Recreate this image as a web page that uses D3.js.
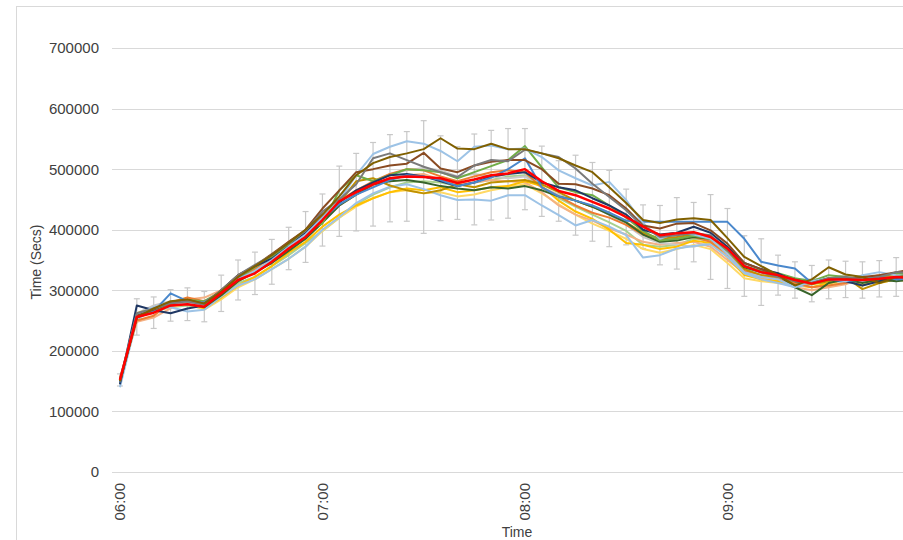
<!DOCTYPE html>
<html>
<head>
<meta charset="utf-8">
<script src="https://cdn.jsdelivr.net/npm/d3@7"></script>
<style>
  body { margin: 0; background: #fff; }
  text { font-family: "Liberation Sans", Arial, sans-serif; fill: #404040; }
</style>
</head>
<body>
<svg width="903" height="540"></svg>
<script>
// time slots, every 5 minutes
const times = ["06:00","06:05","06:10","06:15","06:20","06:25","06:30","06:35","06:40","06:45","06:50","06:55",
  "07:00","07:05","07:10","07:15","07:20","07:25","07:30","07:35","07:40","07:45","07:50","07:55",
  "08:00","08:05","08:10","08:15","08:20","08:25","08:30","08:35","08:40","08:45","08:50","08:55",
  "09:00","09:05","09:10","09:15","09:20","09:25","09:30","09:35","09:40","09:45","09:50","09:55"];
const tickLabels = ["06:00","07:00","08:00","09:00"];
const yTicks = [0,100000,200000,300000,400000,500000,600000,700000];

// individual days (secs)
const olive = [150000,255000,270000,282000,285000,278000,298000,322000,340000,358000,378000,400000,425000,455000,490000,510000,520000,526000,533000,551000,534000,533000,542000,533000,533000,526000,518000,506000,495000,470000,444000,416000,411000,417000,419000,416000,386000,355000,340000,325000,308000,318000,338000,326000,322000,312000,322000,325000];
const lightBlueHigh = [152000,260000,272000,280000,278000,275000,296000,318000,332000,350000,372000,392000,420000,448000,490000,525000,537000,546000,542000,530000,513000,537000,539000,533000,534000,520000,498000,485000,473000,479000,449000,411000,385000,395000,392000,385000,360000,330000,322000,318000,305000,315000,320000,315000,325000,330000,325000,322000];
const lightBlueLow = [140000,252000,268000,272000,265000,268000,290000,308000,318000,335000,352000,372000,400000,421000,444000,460000,471000,475000,467000,457000,449000,450000,448000,457000,457000,440000,424000,407000,416000,405000,391000,354000,358000,369000,373000,376000,355000,328000,318000,312000,305000,310000,318000,312000,315000,322000,318000,315000];
const darkGray = [152000,262000,270000,278000,282000,276000,300000,325000,342000,358000,378000,398000,430000,450000,475000,518000,526000,515000,504000,495000,487000,506000,515000,513000,532000,526000,520000,501000,476000,454000,432000,405000,388000,391000,394000,391000,366000,340000,330000,322000,315000,312000,320000,322000,318000,322000,330000,328000];
const brown = [150000,258000,268000,280000,284000,278000,300000,325000,340000,360000,380000,400000,435000,465000,495000,500000,506000,509000,527000,501000,495000,506000,512000,515000,515000,500000,476000,475000,468000,457000,435000,407000,402000,410000,411000,399000,377000,345000,335000,325000,318000,312000,320000,318000,322000,325000,330000,335000];
const green = [150000,255000,265000,276000,284000,282000,298000,320000,338000,355000,375000,398000,410000,465000,490000,480000,490000,500000,498000,495000,485000,495000,505000,515000,538000,503000,470000,462000,457000,440000,420000,398000,382000,385000,390000,385000,365000,340000,332000,328000,320000,315000,325000,322000,318000,322000,328000,325000];
const blue = [148000,258000,265000,295000,282000,280000,298000,320000,330000,348000,370000,390000,418000,442000,458000,470000,482000,490000,488000,482000,472000,478000,486000,500000,518000,470000,455000,448000,440000,428000,415000,413000,413000,413000,413000,413000,413000,385000,347000,341000,336000,312000,318000,315000,318000,322000,318000,320000];
const navy = [145000,275000,267000,262000,270000,275000,300000,325000,340000,352000,372000,395000,420000,445000,465000,478000,490000,492000,488000,480000,472000,478000,488000,492000,495000,478000,470000,465000,452000,440000,425000,400000,392000,395000,405000,395000,372000,345000,335000,328000,315000,312000,318000,315000,308000,315000,320000,318000];
const yellow = [150000,262000,270000,278000,282000,270000,288000,308000,322000,340000,362000,380000,405000,425000,440000,452000,462000,468000,465000,470000,462000,465000,470000,472000,480000,472000,448000,430000,418000,400000,378000,375000,368000,372000,382000,378000,355000,325000,318000,315000,310000,305000,312000,318000,308000,318000,325000,315000];
const darkYellow = [152000,258000,268000,276000,280000,276000,292000,315000,330000,350000,372000,392000,418000,445000,480000,485000,473000,465000,460000,465000,475000,470000,478000,480000,482000,475000,462000,448000,438000,428000,412000,395000,385000,388000,392000,385000,365000,335000,325000,322000,315000,310000,315000,322000,302000,312000,318000,322000];
const orange = [155000,250000,258000,280000,288000,282000,296000,318000,335000,358000,380000,398000,422000,448000,465000,480000,492000,500000,498000,488000,480000,488000,495000,498000,495000,470000,455000,440000,428000,420000,408000,392000,382000,385000,388000,380000,360000,332000,325000,318000,312000,305000,308000,312000,318000,325000,322000,318000];
const lightOrange = [150000,248000,255000,270000,285000,288000,300000,320000,335000,352000,375000,392000,415000,440000,458000,472000,485000,490000,492000,482000,475000,478000,482000,480000,478000,462000,440000,425000,415000,402000,392000,380000,375000,378000,380000,372000,350000,328000,320000,315000,305000,300000,305000,310000,320000,325000,328000,325000];
const lightGray = [150000,262000,275000,282000,280000,278000,298000,318000,332000,348000,368000,385000,412000,440000,462000,478000,492000,498000,502000,498000,488000,492000,488000,485000,488000,470000,458000,448000,438000,425000,408000,388000,378000,375000,372000,380000,362000,335000,328000,322000,318000,318000,320000,325000,322000,318000,328000,325000];
const lightGreen = [148000,255000,265000,272000,275000,270000,290000,312000,322000,340000,358000,378000,398000,420000,442000,458000,470000,478000,480000,478000,472000,478000,482000,488000,490000,470000,452000,438000,425000,412000,398000,375000,372000,375000,385000,382000,362000,338000,328000,320000,315000,315000,310000,318000,320000,315000,322000,320000];
const darkGreen = [148000,255000,268000,275000,278000,272000,292000,315000,330000,345000,365000,385000,412000,440000,458000,475000,480000,482000,478000,472000,468000,465000,470000,468000,472000,465000,455000,448000,438000,425000,412000,392000,380000,382000,388000,385000,368000,338000,330000,325000,305000,292000,312000,318000,312000,318000,315000,318000];
const paleYellow = [150000,258000,268000,272000,278000,268000,285000,305000,318000,335000,352000,372000,398000,420000,438000,452000,462000,465000,460000,462000,455000,458000,465000,470000,475000,460000,442000,425000,410000,398000,385000,368000,362000,368000,375000,368000,345000,320000,315000,312000,308000,305000,310000,312000,315000,312000,318000,312000];

// average and its error
const average = [152000,256000,263000,275000,277000,273000,295000,317000,328000,347000,369000,388000,416000,447000,462000,475000,485000,488000,487000,485000,477000,483000,490000,493000,500000,480000,464000,457000,446000,435000,421000,405000,391000,394000,396000,388000,369000,340000,330000,325000,317000,311000,318000,318000,317000,319000,322000,320000];
const avgError = [10000,30000,26000,26000,27000,25000,30000,33000,35000,37000,35000,42000,43000,58000,64000,69000,72000,74000,93000,70000,60000,75000,74000,74000,67000,58000,50000,66000,65000,63000,46000,36000,49000,59000,49000,70000,66000,50000,55000,33000,30000,30000,32000,30000,30000,30000,32000,30000];

const series = [
  { name: "lightGreen", color: "#a9d18e", values: lightGreen },
  { name: "paleYellow", color: "#ffd966", values: paleYellow },
  { name: "lightOrange", color: "#f4b183", values: lightOrange },
  { name: "lightGray", color: "#c9c9c9", values: lightGray },
  { name: "yellow", color: "#ffc000", values: yellow },
  { name: "lightBlueLow", color: "#9dc3e6", values: lightBlueLow },
  { name: "orange", color: "#ed7d31", values: orange },
  { name: "darkYellow", color: "#bf9000", values: darkYellow },
  { name: "darkGreen", color: "#38642a", values: darkGreen },
  { name: "green", color: "#70ad47", values: green },
  { name: "navy", color: "#203864", values: navy },
  { name: "blue", color: "#4a88cc", values: blue },
  { name: "lightBlueHigh", color: "#9dc3e6", values: lightBlueHigh },
  { name: "brown", color: "#8a4b22", values: brown },
  { name: "darkGray", color: "#7a7a7a", values: darkGray },
  { name: "olive", color: "#806000", values: olive }
];

const svg = d3.select("svg");

// chart frame
svg.append("rect")
  .attr("x", 16.5).attr("y", 6.5)
  .attr("width", 1000).attr("height", 1000)
  .attr("fill", "#fff").attr("stroke", "#d9d9d9");

const x = d3.scaleBand().domain(times).range([111.5, 111.5 + 16.875 * times.length]);
const cx = t => x(t) + x.bandwidth() / 2;
const y = d3.scaleLinear().domain([0, 700000]).range([472, 48]);

// gridlines
svg.append("g")
  .selectAll("line")
  .data(yTicks)
  .enter().append("line")
  .attr("x1", 112).attr("x2", 903)
  .attr("y1", d => Math.round(y(d)) + 0.5)
  .attr("y2", d => Math.round(y(d)) + 0.5)
  .attr("stroke", "#d9d9d9").attr("stroke-width", 1);

// y labels
svg.append("g")
  .selectAll("text")
  .data(yTicks)
  .enter().append("text")
  .attr("x", 99)
  .attr("y", d => y(d))
  .attr("dy", "0.36em")
  .attr("text-anchor", "end")
  .style("font-size", "15px")
  .text(d => d);

// x labels
svg.append("g")
  .selectAll("text")
  .data(tickLabels)
  .enter().append("text")
  .attr("transform", d => `translate(${cx(d)},483) rotate(-90)`)
  .attr("dy", "0.36em")
  .attr("text-anchor", "end")
  .style("font-size", "15px")
  .text(d => d);

// axis titles
svg.append("text")
  .attr("transform", "translate(36,262) rotate(-90)")
  .attr("text-anchor", "middle")
  .attr("dy", "0.36em")
  .style("font-size", "14px")
  .text("Time (Secs)");

svg.append("text")
  .attr("x", 517).attr("y", 537)
  .attr("text-anchor", "middle")
  .style("font-size", "14px")
  .text("Time");

const plot = svg.append("g");

// error bars on the average
const err = plot.append("g").attr("stroke", "#c8c8c8").attr("stroke-width", 1.2);
times.forEach((t, i) => {
  const top = y(average[i] + avgError[i]);
  const bot = y(average[i] - avgError[i]);
  err.append("line").attr("x1", cx(t)).attr("x2", cx(t)).attr("y1", top).attr("y2", bot);
  err.append("line").attr("x1", cx(t) - 3).attr("x2", cx(t) + 3).attr("y1", top).attr("y2", top);
  err.append("line").attr("x1", cx(t) - 3).attr("x2", cx(t) + 3).attr("y1", bot).attr("y2", bot);
});

const line = d3.line()
  .x((d, i) => cx(times[i]))
  .y(d => y(d));

plot.selectAll(".series")
  .data(series)
  .enter().append("path")
  .attr("class", "series")
  .attr("d", d => line(d.values))
  .attr("fill", "none")
  .attr("stroke", d => d.color)
  .attr("stroke-width", 2)
  .attr("stroke-linejoin", "round");

plot.append("path")
  .attr("d", line(average))
  .attr("fill", "none")
  .attr("stroke", "#ff0000")
  .attr("stroke-width", 2.5)
  .attr("stroke-linejoin", "round");
</script>
</body>
</html>
